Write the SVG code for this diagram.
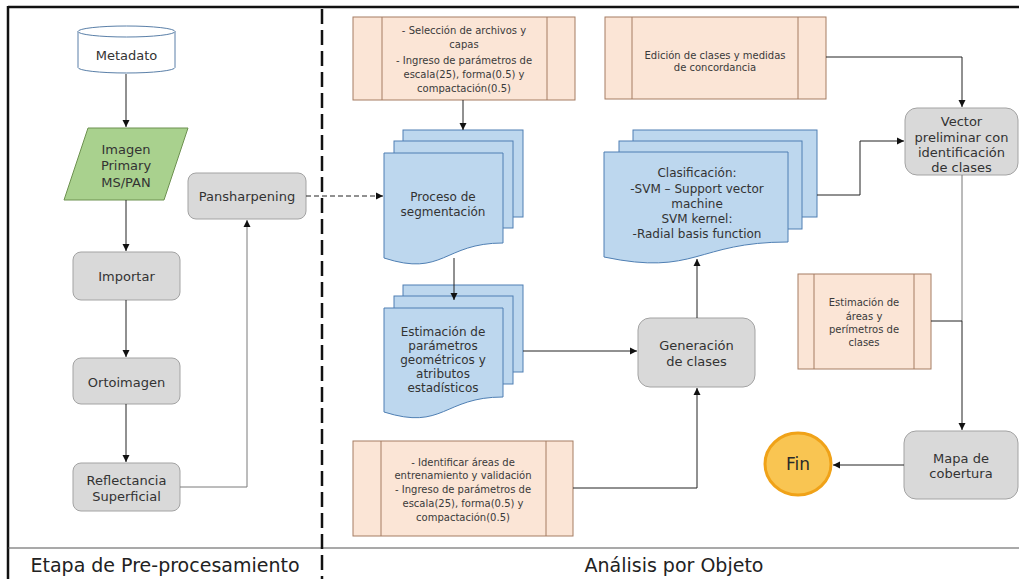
<svg xmlns="http://www.w3.org/2000/svg" width="1019" height="579" viewBox="0 0 1019 579">
<style>
text{font-family:"DejaVu Sans","Liberation Sans",sans-serif;fill:#333;text-anchor:middle}
.n13{font-size:13px}
.n12{font-size:12px}
.p10{font-size:10px;fill:#3a3a3a}
.gray{fill:#d9d9d9;stroke:#a3a3a3;stroke-width:1}
.doc{fill:#bdd7ee;stroke:#4f7fb3;stroke-width:1}
.peach{fill:#fbe5d6;stroke:#a57c63;stroke-width:1}
.cn{fill:none;stroke:#222;stroke-width:1}
.lbl{font-size:19px;fill:#222}
</style>
<defs>
<marker id="ah" markerUnits="userSpaceOnUse" markerWidth="8" markerHeight="8" refX="7" refY="4" orient="auto">
<path d="M0,0.5 L7,4 L0,7.5 z" fill="#111"/>
</marker>
</defs>
<rect width="1019" height="579" fill="#fff"/>
<g id="frame">
<line x1="8" y1="7" x2="1019" y2="7" stroke="#111" stroke-width="2.5"/>
<line x1="8" y1="6" x2="8" y2="579" stroke="#111" stroke-width="2.5"/>
<line x1="8" y1="548" x2="1019" y2="548" stroke="#555" stroke-width="1.2"/>
<line x1="322" y1="9" x2="322" y2="579" stroke="#111" stroke-width="2.5" stroke-dasharray="15,6"/>
<text class="lbl" x="165" y="572">Etapa de Pre-procesamiento</text>
<text class="lbl" x="674" y="572">Análisis por Objeto</text>
</g>
<g id="metadato">
<path d="M78,31.5 V67.5 A48.5,5.5 0 0 0 175,67.5 V31.5" fill="#fff" stroke="#5a7fa8" stroke-width="1"/>
<ellipse cx="126.5" cy="31.5" rx="48.5" ry="5.5" fill="#fff" stroke="#5a7fa8" stroke-width="1"/>
<text class="n13" x="126.5" y="59.5">Metadato</text>
</g>
<g id="imagen">
<polygon points="88,128 188,128 164,200 64,200" fill="#a9d18e" stroke="#6d9150" stroke-width="1"/>
<text class="n13" x="126" y="154">Imagen</text>
<text class="n13" x="126" y="170">Primary</text>
<text class="n13" x="126" y="187">MS/PAN</text>
</g>
<g id="importar">
<rect class="gray" x="73" y="252" width="107" height="48" rx="8"/>
<text class="n13" x="126.5" y="280.5">Importar</text>
</g>
<g id="ortoimagen">
<rect class="gray" x="73" y="358" width="107" height="46" rx="8"/>
<text class="n13" x="126.5" y="386.5">Ortoimagen</text>
</g>
<g id="reflectancia">
<rect class="gray" x="73" y="463" width="107" height="48" rx="8"/>
<text class="n13" x="126.5" y="484.5">Reflectancia</text>
<text class="n13" x="126.5" y="500.5">Superficial</text>
</g>
<g id="pansharpening">
<rect class="gray" x="188" y="173" width="118" height="46" rx="8"/>
<text class="n13" x="247" y="200.5">Pansharpening</text>
</g>
<g id="seleccion">
<rect class="peach" x="353" y="17" width="222" height="83"/>
<line x1="382" y1="17" x2="382" y2="100" stroke="#a57c63"/>
<line x1="547" y1="17" x2="547" y2="100" stroke="#a57c63"/>
<text class="p10" x="464" y="33.5">- Selección  de archivos y</text>
<text class="p10" x="464" y="47.5">capas</text>
<text class="p10" x="464" y="63.5">- Ingreso de parámetros de</text>
<text class="p10" x="464" y="77.5">escala(25),  forma(0.5) y</text>
<text class="p10" x="464" y="91.5">compactación(0.5)</text>
</g>
<g id="edicion">
<rect class="peach" x="605" y="17" width="221" height="82"/>
<line x1="632" y1="17" x2="632" y2="99" stroke="#a57c63"/>
<line x1="798" y1="17" x2="798" y2="99" stroke="#a57c63"/>
<text class="p10" x="715" y="58.5">Edición de clases y medidas</text>
<text class="p10" x="715" y="70.5">de concordancia</text>
</g>
<g id="proceso">
<rect class="doc" x="403" y="130" width="120" height="87"/>
<rect class="doc" x="394" y="141" width="119" height="87"/>
<path class="doc" d="M384,153 H503 V243 C443.5,243 443.5,277.4 384,258 Z"/>
<text class="n12" x="443" y="201">Proceso de</text>
<text class="n12" x="443" y="216">segmentación</text>
</g>
<g id="estimacion">
<rect class="doc" x="403" y="285" width="120" height="87"/>
<rect class="doc" x="394" y="296" width="119" height="88"/>
<path class="doc" d="M384,308 H503 V397 C443.5,397 443.5,430.9 384,412 Z"/>
<text class="n12" x="443" y="336">Estimación de</text>
<text class="n12" x="443" y="350">parámetros</text>
<text class="n12" x="443" y="364">geométricos y</text>
<text class="n12" x="443" y="378">atributos</text>
<text class="n12" x="443" y="392">estadísticos</text>
</g>
<g id="clasificacion">
<rect class="doc" x="633" y="130" width="184" height="87"/>
<rect class="doc" x="619" y="141" width="183" height="88"/>
<path class="doc" d="M604,152 H788 V242 C696,242 696,276.4 604,257 Z"/>
<text class="n12" x="697" y="177">Clasificación:</text>
<text class="n12" x="697" y="193">-SVM – Support vector</text>
<text class="n12" x="697" y="208">machine</text>
<text class="n12" x="697" y="223">SVM kernel:</text>
<text class="n12" x="697" y="238">-Radial basis function</text>
</g>
<g id="generacion">
<rect class="gray" x="638" y="318" width="117" height="69" rx="12"/>
<text class="n13" x="696.5" y="349.5">Generación</text>
<text class="n13" x="696.5" y="366">de clases</text>
</g>
<g id="identificar">
<rect class="peach" x="353" y="441" width="220" height="95"/>
<line x1="381" y1="441" x2="381" y2="536" stroke="#a57c63"/>
<line x1="546" y1="441" x2="546" y2="536" stroke="#a57c63"/>
<text class="p10" x="463" y="465.5">- Identificar áreas de</text>
<text class="p10" x="463" y="478.5">entrenamiento y validación</text>
<text class="p10" x="463" y="492.5">- Ingreso de parámetros de</text>
<text class="p10" x="463" y="506.5">escala(25),  forma(0.5) y</text>
<text class="p10" x="463" y="520.5">compactación(0.5)</text>
</g>
<g id="vector">
<rect class="gray" x="905" y="108" width="113" height="67" rx="12"/>
<text class="n13" x="961.5" y="126">Vector</text>
<text class="n13" x="961.5" y="142">preliminar con</text>
<text class="n13" x="961.5" y="157">identificación</text>
<text class="n13" x="961.5" y="172">de clases</text>
</g>
<g id="areas">
<rect class="peach" x="798" y="274" width="133" height="95"/>
<line x1="814" y1="274" x2="814" y2="369" stroke="#a57c63"/>
<line x1="914" y1="274" x2="914" y2="369" stroke="#a57c63"/>
<text class="p10" x="864" y="305.5">Estimación de</text>
<text class="p10" x="864" y="319.5">áreas y</text>
<text class="p10" x="864" y="332.5">perímetros de</text>
<text class="p10" x="864" y="345.5">clases</text>
</g>
<g id="mapa">
<rect class="gray" x="904" y="431" width="114" height="68" rx="12"/>
<text class="n13" x="961" y="462.5">Mapa de</text>
<text class="n13" x="961" y="478">cobertura</text>
</g>
<g id="fin">
<ellipse cx="798" cy="464" rx="33" ry="31" fill="#f9c552" stroke="#f0a218" stroke-width="3"/>
<text x="798" y="470" style="font-size:17px;fill:#2a2a2a">Fin</text>
</g>
<g id="connectors">
<path class="cn" d="M126,74 V127" marker-end="url(#ah)"/>
<path class="cn" d="M126,200 V251" marker-end="url(#ah)"/>
<path class="cn" d="M126,300 V357" marker-end="url(#ah)"/>
<path class="cn" d="M126,404 V462" marker-end="url(#ah)"/>
<path class="cn" d="M180,487 H247 V220" style="stroke:#7a7a7a" marker-end="url(#ah)"/>
<path class="cn" d="M306,196 H383" stroke-dasharray="5,3" marker-end="url(#ah)"/>
<path class="cn" d="M463,100 V130" marker-end="url(#ah)"/>
<path class="cn" d="M454,258 V300" marker-end="url(#ah)"/>
<path class="cn" d="M523,351 H637" marker-end="url(#ah)"/>
<path class="cn" d="M697,318 V259" marker-end="url(#ah)"/>
<path class="cn" d="M573,488 H697 V388" marker-end="url(#ah)"/>
<path class="cn" d="M817,195 H860 V141 H904" marker-end="url(#ah)"/>
<path class="cn" d="M826,57 H962 V107" marker-end="url(#ah)"/>
<path class="cn" d="M962,175 V321" style="stroke:#777"/>
<path class="cn" d="M962,321 V430" marker-end="url(#ah)"/>
<path class="cn" d="M931,321 H962"/>
<path class="cn" d="M904,465 H833" marker-end="url(#ah)"/>
</g>
</svg>
